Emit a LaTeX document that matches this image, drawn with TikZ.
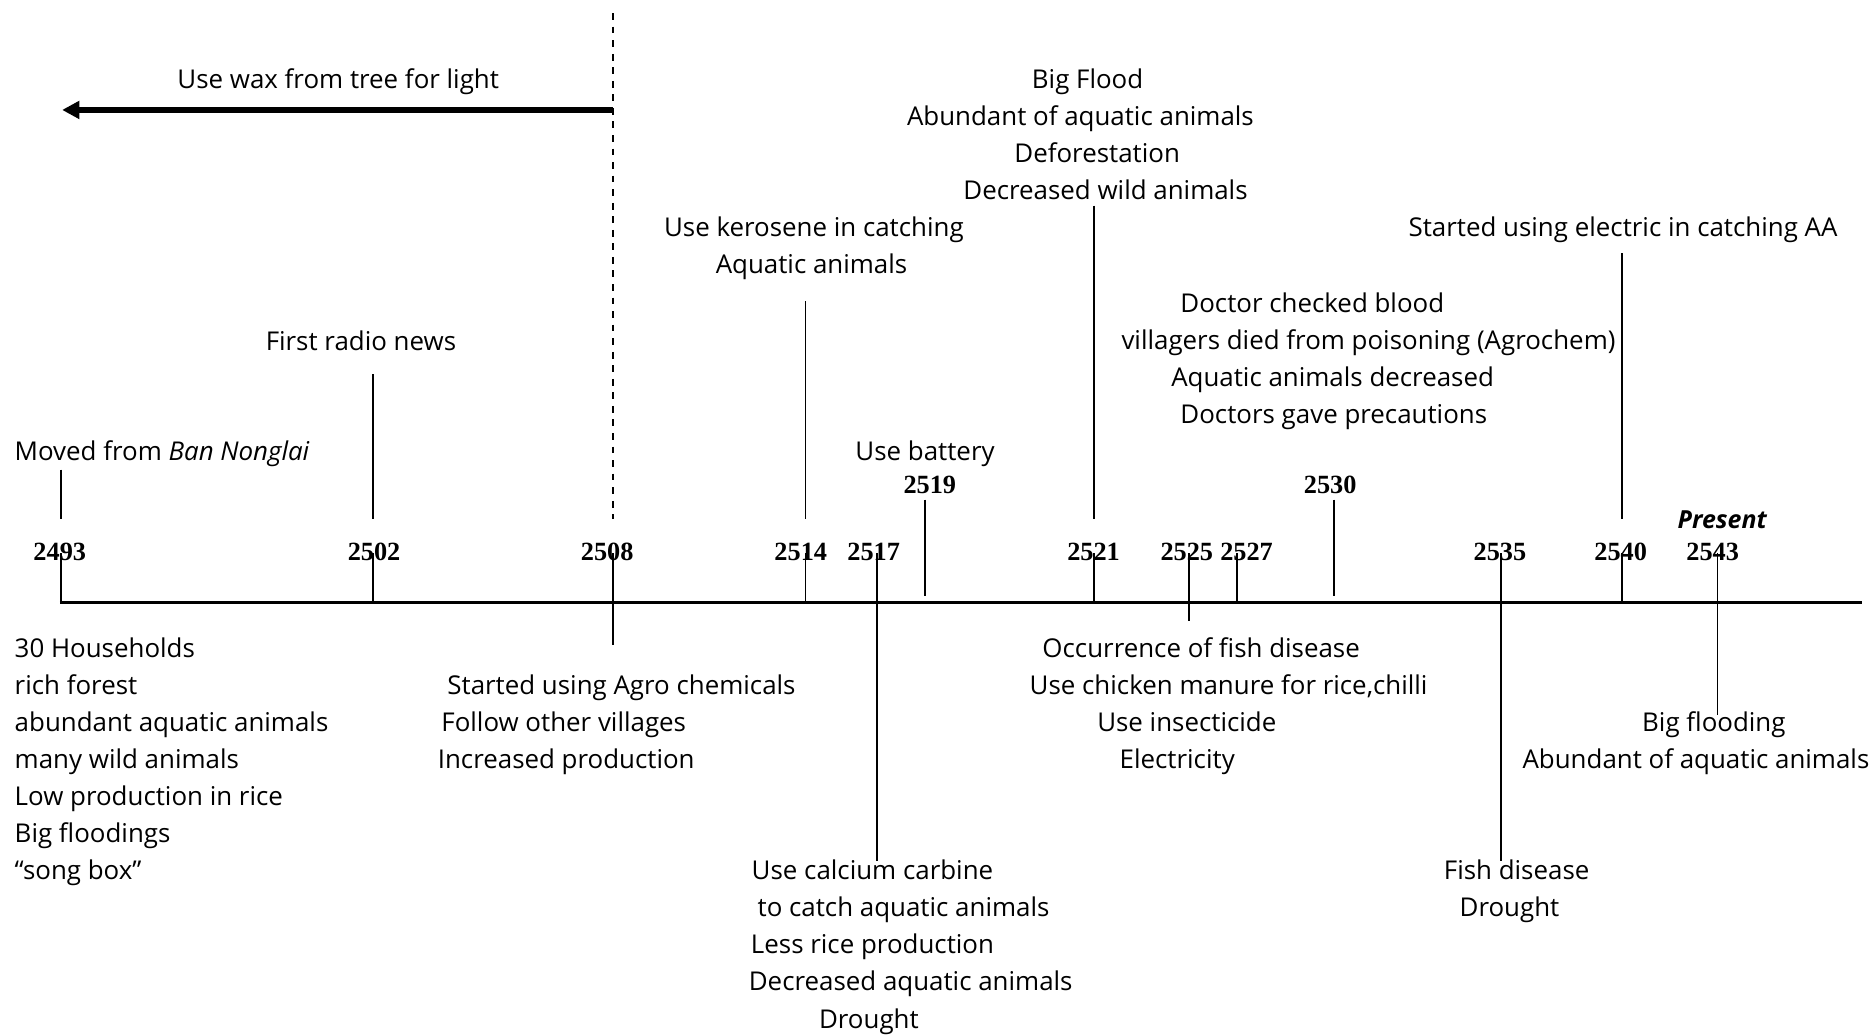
\documentclass[tikz,border=0pt]{standalone}
\usepackage{fontspec}
\setmainfont{Open Sans}
\newfontfamily\yearfont{Liberation Serif}
\usetikzlibrary{arrows.meta}
\newcommand\evline[4]{\node[txt] (#1) at (#2,#3) {#4};}
\newcommand\evleft[4]{\node[txt,anchor=west] (#1) at (#2,#3) {#4};}
\newcommand\yearlab[3]{\node[yr] (y#1) at (#2,#3) {#1};}
\begin{document}
\begin{tikzpicture}[x=0.6pt,y=-0.6pt,
  txt/.style={inner sep=0pt, yshift=-2.4pt, font=\fontsize{13}{15}\selectfont, text height=0.7em, text depth=0.2em},
  yr/.style={inner sep=0pt, font=\yearfont\bfseries\fontsize{13.2}{15}\selectfont},
  tickline/.style={line width=0.95pt},
  axisline/.style={line width=1.3pt},
  bigarrow/.style={line width=3pt, -{Triangle[length=8.7pt,width=8.7pt]}},
  dashline/.style={line width=0.8pt, dash pattern=on 3.4pt off 3.4pt}]
\useasboundingbox (0,0) rectangle (1568,866);

% ---------- top texts ----------
\evline{wax}{283}{66}{Use wax from tree for light}
\evline{radio}{302}{285}{First radio news}
\evleft{moved}{12}{377}{Moved from \textit{Ban Nonglai}}
\evline{ker1}{681}{190}{Use kerosene in catching}
\evline{ker2}{679}{221}{Aquatic animals}
\evline{batt}{774}{377}{Use battery}
\evline{fl1}{910}{66}{Big Flood}
\evline{fl2}{904}{97}{Abundant of aquatic animals}
\evline{fl3}{918}{128}{Deforestation}
\evline{fl4}{925}{159}{Decreased wild animals}
\evline{elec}{1358}{190}{Started using electric in catching AA}
\evline{doc1}{1098}{253}{Doctor checked blood}
\evline{doc2}{1145}{284}{villagers died from poisoning (Agrochem)}
\evline{doc3}{1115}{315}{Aquatic animals decreased}
\evline{doc4}{1116}{346}{Doctors gave precautions}
\node[txt,font=\bfseries\itshape\fontsize{12.5}{15}\selectfont] (present) at (1441,434) {Present};

% ---------- bottom texts ----------
\evleft{h1}{12}{542}{30 Households}
\evleft{h2}{12}{573}{rich forest}
\evleft{h3}{12}{604}{abundant aquatic animals}
\evleft{h4}{12}{635}{many wild animals}
\evleft{h5}{12}{666}{Low production in rice}
\evleft{h6}{12}{697}{Big floodings}
\evleft{h7}{12}{728}{“song box”}
\evleft{ag1}{374}{573}{Started using Agro chemicals}
\evleft{ag2}{369}{604}{Follow other villages}
\evleft{ag3}{366}{635}{Increased production}
\evline{ca1}{730}{728}{Use calcium carbine}
\evline{ca2}{756}{759}{to catch aquatic animals}
\evline{ca3}{730}{790}{Less rice production}
\evline{ca4}{762}{821}{Decreased aquatic animals}
\evline{ca5}{727}{852}{Drought}
\evline{fd1}{1005}{542}{Occurrence of fish disease}
\evline{fd2}{1028}{573}{Use chicken manure for rice,chilli}
\evline{fd3}{993}{604}{Use insecticide}
\evline{fd4}{985}{635}{Electricity}
\evline{fs1}{1269}{728}{Fish disease}
\evline{fs2}{1263}{759}{Drought}
\evline{bf1}{1434}{604}{Big flooding}
\evline{bf2}{1419}{635}{Abundant of aquatic animals}

% ---------- year labels ----------
\yearlab{2493}{50}{462}
\yearlab{2502}{313}{462}
\yearlab{2508}{508}{462}
\yearlab{2514}{670}{462}
\yearlab{2517}{731}{462}
\yearlab{2519}{778}{406}
\yearlab{2521}{915}{462}
\yearlab{2525}{993}{462}
\yearlab{2527}{1043}{462}
\yearlab{2530}{1113}{406}
\yearlab{2535}{1255}{462}
\yearlab{2540}{1356}{462}
\yearlab{2543}{1433}{462}

% ---------- coordinates ----------
\coordinate (axL) at (50,504);
\coordinate (axR) at (1558,504);
\coordinate (dashTop) at (513,11);
\coordinate (dashBot) at (513,434);
\coordinate (arrowS) at (513,92);
\coordinate (arrowE) at (52,92);
% upper connectors
\coordinate (u2493a) at (51,393);   \coordinate (u2493b) at (51,434);
\coordinate (u2502a) at (312,313);  \coordinate (u2502b) at (312,434);
\coordinate (u2514a) at (674,252);  \coordinate (u2514b) at (674,434);
\coordinate (u2521a) at (915,172);  \coordinate (u2521b) at (915,434);
\coordinate (u2540a) at (1357,212); \coordinate (u2540b) at (1357,434);
% lower ticks
\coordinate (l2493a) at (51,463);   \coordinate (l2493b) at (51,504);
\coordinate (l2502a) at (312,463);  \coordinate (l2502b) at (312,504);
\coordinate (l2508a) at (513,463);  \coordinate (l2508b) at (513,540);
\coordinate (l2514a) at (674,463);  \coordinate (l2514b) at (674,504);
\coordinate (l2517a) at (734,463);  \coordinate (l2517b) at (734,720);
\coordinate (l2519a) at (774,418);  \coordinate (l2519b) at (774,499);
\coordinate (l2521a) at (915,463);  \coordinate (l2521b) at (915,504);
\coordinate (l2525a) at (995,463);  \coordinate (l2525b) at (995,520);
\coordinate (l2527a) at (1035,463); \coordinate (l2527b) at (1035,504);
\coordinate (l2530a) at (1116,418); \coordinate (l2530b) at (1116,499);
\coordinate (l2535a) at (1256,463); \coordinate (l2535b) at (1256,720);
\coordinate (l2540a) at (1357,463); \coordinate (l2540b) at (1357,504);
\coordinate (l2543a) at (1437,463); \coordinate (l2543b) at (1437,598);

% ---------- lines ----------
\draw[axisline] (axL) -- (axR);
\draw[dashline] (dashTop) -- (dashBot);
\draw[bigarrow] (arrowS) -- (arrowE);
\foreach \y in {2493,2502,2514,2521,2540}
  \draw[tickline] (u\y a) -- (u\y b);
\foreach \y in {2493,2502,2508,2514,2517,2519,2521,2525,2527,2530,2535,2540,2543}
  \draw[tickline] (l\y a) -- (l\y b);
\end{tikzpicture}
\end{document}
